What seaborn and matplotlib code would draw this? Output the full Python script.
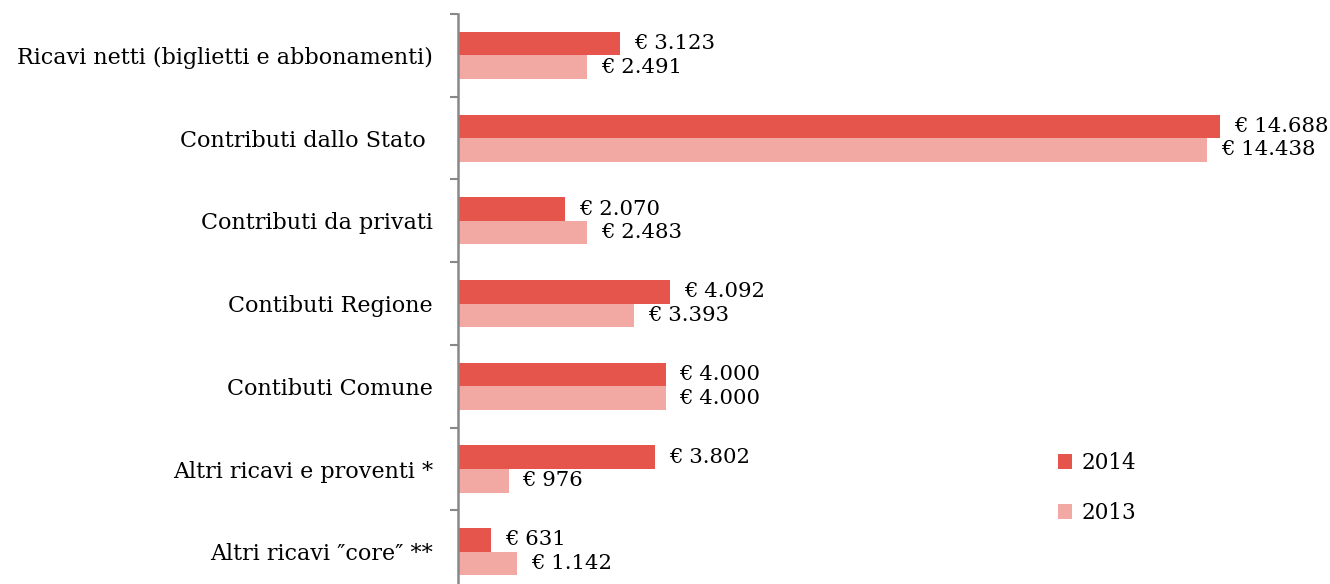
import seaborn as sns
import pandas as pd
import matplotlib.pyplot as plt

categories = ["Ricavi netti (biglietti e abbonamenti)", "Contributi dallo Stato ",
              "Contributi da privati", "Contibuti Regione", "Contibuti Comune",
              "Altri ricavi e proventi *", "Altri ricavi \u2033core\u2033 **"]
vals_2014 = [3123, 14688, 2070, 4092, 4000, 3802, 631]
vals_2013 = [2491, 14438, 2483, 3393, 4000, 976, 1142]
years = ["2014", "2013"]

df = pd.DataFrame({
    "cat": categories * 2,
    "val": vals_2014 + vals_2013,
    "anno": [years[0]] * 7 + [years[1]] * 7,
})

sns.set_style("white")
plt.rcParams["font.family"] = ["DejaVu Serif"]
plt.rcParams["text.color"] = "black"
plt.rcParams["ytick.color"] = "black"

fig = plt.figure(figsize=(13.3, 5.84), dpi=100)
ax = fig.add_axes([458 / 1330, 0, 1 - 458 / 1330, 1 - 14 / 584])

sns.barplot(data=df, y="cat", x="val", hue="anno", orient="h", order=categories,
            hue_order=years, palette=["#E5554B", "#F2A8A3"], width=0.57,
            saturation=1, linewidth=0, ax=ax)

# etichette valori
def fmt(v):
    return "\u20ac " + f"{v:,}".replace(",", ".")

for cont in ax.containers:
    for bar in cont:
        w = bar.get_width()
        ax.annotate(fmt(int(round(w))), xy=(w, bar.get_y() + bar.get_height() / 2),
                    xytext=(10, 0), textcoords="offset points",
                    va="center", ha="left", fontsize=15.3, color="black")

ax.set_xlabel("")
ax.set_ylabel("")
ax.set_xticks([])
ax.set_yticks(range(len(categories)))
ax.set_yticklabels(categories, fontsize=16)
ax.set_yticks([i - 0.5 for i in range(len(categories) + 1)], minor=True)
ax.tick_params(axis="y", which="major", length=0, pad=18, labelcolor="black")
ax.tick_params(axis="y", which="minor", length=6, width=1.5, color="#888888", left=True)
ax.set_xlim(0, 16800)
ax.set_ylim(6.39, -0.5)

for s in ["top", "right", "bottom"]:
    ax.spines[s].set_visible(False)
ax.spines["left"].set_color("#888888")
ax.spines["left"].set_linewidth(1.8)

leg = ax.legend(loc="upper left", bbox_to_anchor=(1058 / 1330, 1 - 452 / 584),
                bbox_transform=fig.transFigure, frameon=False, fontsize=15.5,
                handlelength=0.65, handleheight=0.65, handletextpad=0.45,
                labelspacing=1.3, borderpad=0, borderaxespad=0)
for t in leg.get_texts():
    t.set_color("black")

fig.savefig("out.png", dpi=100)
